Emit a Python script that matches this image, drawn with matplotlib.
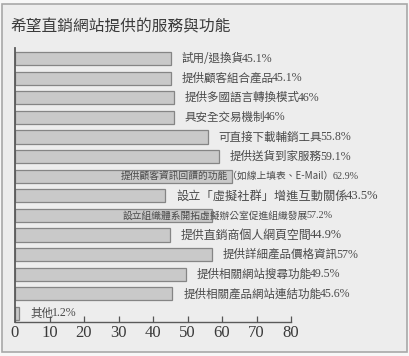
import matplotlib.pyplot as plt
from matplotlib.patches import Rectangle

# data ---------------------------------------------------------
labels = [
    "試用/退換貨",
    "提供顧客組合產品",
    "提供多國語言轉換模式",
    "具安全交易機制",
    "可直接下載輔銷工具",
    "提供送貨到家服務",
    "提供顧客資訊回饋的功能（如線上填表、E-Mail）",
    "設立「虛擬社群」增進互動關係",
    "設立組織體系開拓虛擬辦公室促進組織發展",
    "提供直銷商個人網頁空間",
    "提供詳細產品價格資訊",
    "提供相關網站搜尋功能",
    "提供相關產品網站連結功能",
    "其他",
]
values = [45.1, 45.1, 46, 46, 55.8, 59.1, 62.9, 43.5, 57.2, 44.9, 57, 49.5, 45.6, 1.2]
xticks = [0, 10, 20, 30, 40, 50, 60, 70, 80]

# layout -------------------------------------------------------
cjk = ['Noto Sans CJK TC', 'DejaVu Sans']
serif = 'Liberation Serif'
# long labels that start inside their bars (x in data units) and smaller font
label_x_override = {6: 30.7, 8: 31.3}
label_size = {6: 7.0, 8: 7.0, 7: 8.8, 9: 8.6}

fig = plt.figure(figsize=(4.1, 3.56), dpi=100)
fig.patch.set_facecolor('#f7f7f7')
border = Rectangle((2 / 410, 4 / 356), 405 / 410, 348 / 356,
                   transform=fig.transFigure, facecolor='#ededed',
                   edgecolor='#a8a8a8', linewidth=1.2, zorder=-10)
fig.patches.append(border)

fig.text(10 / 410, 1 - 27 / 356, "希望直銷網站提供的服務與功能", family=cjk,
         fontsize=11.3, color='#3a3a3a', va='center', ha='left')

ax = fig.add_axes([15 / 410, 34 / 356, 276 / 410, 274 / 356])
ax.set_facecolor('none')
ax.set_zorder(1)

y = list(range(len(values)))
ax.barh(y, values, height=0.68, left=0, color='#c9c9c9',
        edgecolor='#858585', linewidth=0.9, zorder=2)

for i, (lab, v) in enumerate(zip(labels, values)):
    x = label_x_override.get(i, v + 3.2)
    fs = label_size.get(i, 8.3)
    t = ax.text(x, i, lab, family=cjk, fontsize=fs, color='#4a4a4a',
                va='center', ha='left', zorder=3)
    ax.annotate(f"{v:g}%", xy=(1, 0.5), xycoords=t, xytext=(-1.2, 0),
                textcoords='offset points', family=serif, fontsize=fs + 0.3,
                color='#4a4a4a', va='center', ha='left', zorder=3)

ax.set_xlim(0, 80)
ax.set_ylim(13.44, -0.54)
ax.set_xticks(xticks)
ax.set_xticklabels([str(t) for t in xticks], family=serif, fontsize=12,
                   color='#3a3a3a')
ax.set_yticks([])
ax.tick_params(axis='x', direction='in', length=4, width=0.9, color='#555555',
               pad=2.5)
for s in ['top', 'right']:
    ax.spines[s].set_visible(False)
ax.spines['left'].set_color('#5a5a5a')
ax.spines['left'].set_linewidth(1.3)
ax.spines['bottom'].set_color('#5a5a5a')
ax.spines['bottom'].set_linewidth(1.0)

fig.savefig('out.png', dpi=100, facecolor=fig.get_facecolor())
